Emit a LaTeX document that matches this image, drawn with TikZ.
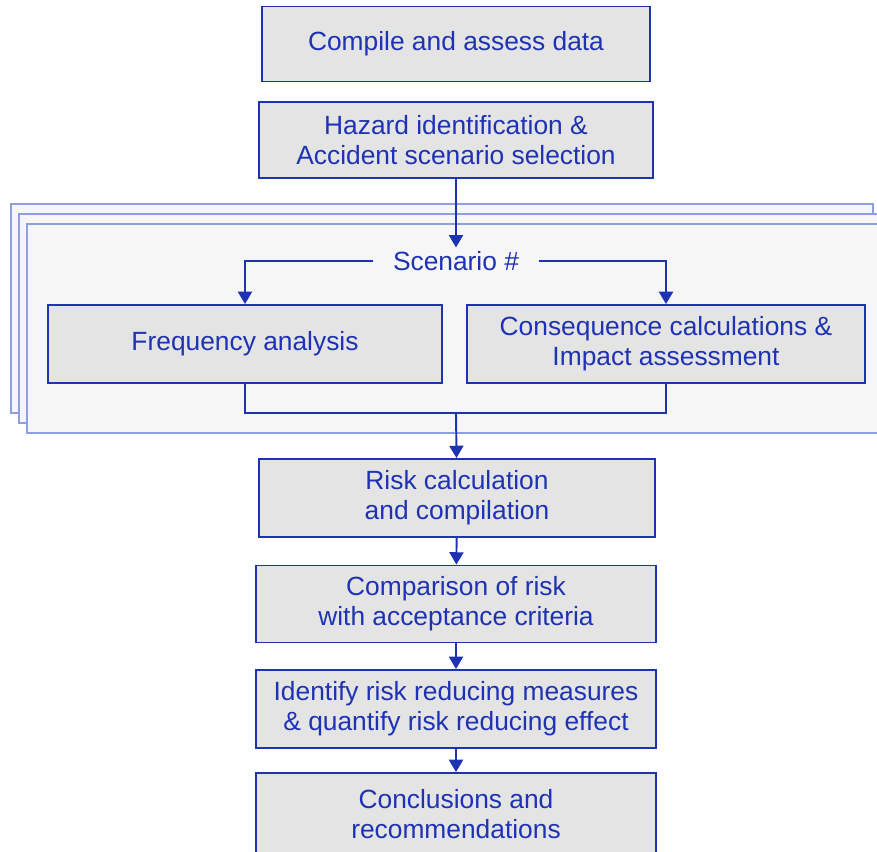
\documentclass[tikz,border=0pt]{standalone}
\usepackage{fontspec}
\setmainfont{Liberation Sans}
\usepackage{xcolor}
\usetikzlibrary{shapes,arrows.meta,positioning}

\definecolor{flowblue}{RGB}{30,50,180}
\definecolor{boxgray}{RGB}{228,228,228}
\definecolor{panelgray}{RGB}{246,246,246}
\definecolor{panelblue}{RGB}{140,160,225}

\tikzset{
  stepbox/.style={draw=flowblue, line width=1.1pt, fill=boxgray, text=flowblue, align=center, inner sep=0pt, font=\fontsize{15}{17}\selectfont},
  arr/.style={draw=flowblue, line width=1.1pt, -{Triangle[length=7pt,width=8pt]}},
  wire/.style={draw=flowblue, line width=1.1pt},
  panel/.style={draw=panelblue, line width=0.7pt, fill=panelgray}
}

\begin{document}
\begin{tikzpicture}[x=0.02cm,y=-0.02cm]
\useasboundingbox (0,0) rectangle (877,852);

% Scenario panels (stacked)
\draw[panel] (11,204) rectangle (873,413);
\draw[panel] (19,214) rectangle (881,423);
\draw[panel] (27,224) rectangle (889,433);

% Boxes
\node[stepbox, minimum width=7.78cm, minimum height=1.5cm] (data) at (456,44) {Compile and assess data};
\node[stepbox, minimum width=7.9cm, minimum height=1.52cm] (hazard) at (456,140) {Hazard identification \&\\Accident scenario selection};
\node[text=flowblue, font=\fontsize{15}{17}\selectfont, inner xsep=11pt, inner ysep=2pt] (scen) at (456,261) {Scenario \#};
\node[stepbox, minimum width=7.88cm, minimum height=1.56cm] (freq) at (245,344) {Frequency analysis};
\node[stepbox, minimum width=7.96cm, minimum height=1.56cm] (cons) at (666,344) {Consequence calculations \&\\Impact assessment};
\node[stepbox, minimum width=7.94cm, minimum height=1.56cm] (risk) at (457,498) {Risk calculation\\and compilation};
\node[stepbox, minimum width=8cm, minimum height=1.54cm] (accept) at (456,604) {Comparison of risk\\with acceptance criteria};
\node[stepbox, minimum width=8cm, minimum height=1.56cm] (measures) at (456,709) {Identify risk reducing measures\\\& quantify risk reducing effect};
\node[stepbox, minimum width=8cm, minimum height=1.64cm] (concl) at (456,814) {Conclusions and\\recommendations};

% Connections
\coordinate (merge) at (456,413);
\draw[arr] (hazard) -- (scen);
\draw[arr] (scen.west) -| (freq.north);
\draw[arr] (scen.east) -| (cons.north);
\draw[wire] (freq.south) |- (merge) -| (cons.south);
\draw[arr] (merge) -- (risk);
\draw[arr] (risk) -- (accept);
\draw[arr] (accept) -- (measures);
\draw[arr] (measures) -- (concl);
\end{tikzpicture}
\end{document}
